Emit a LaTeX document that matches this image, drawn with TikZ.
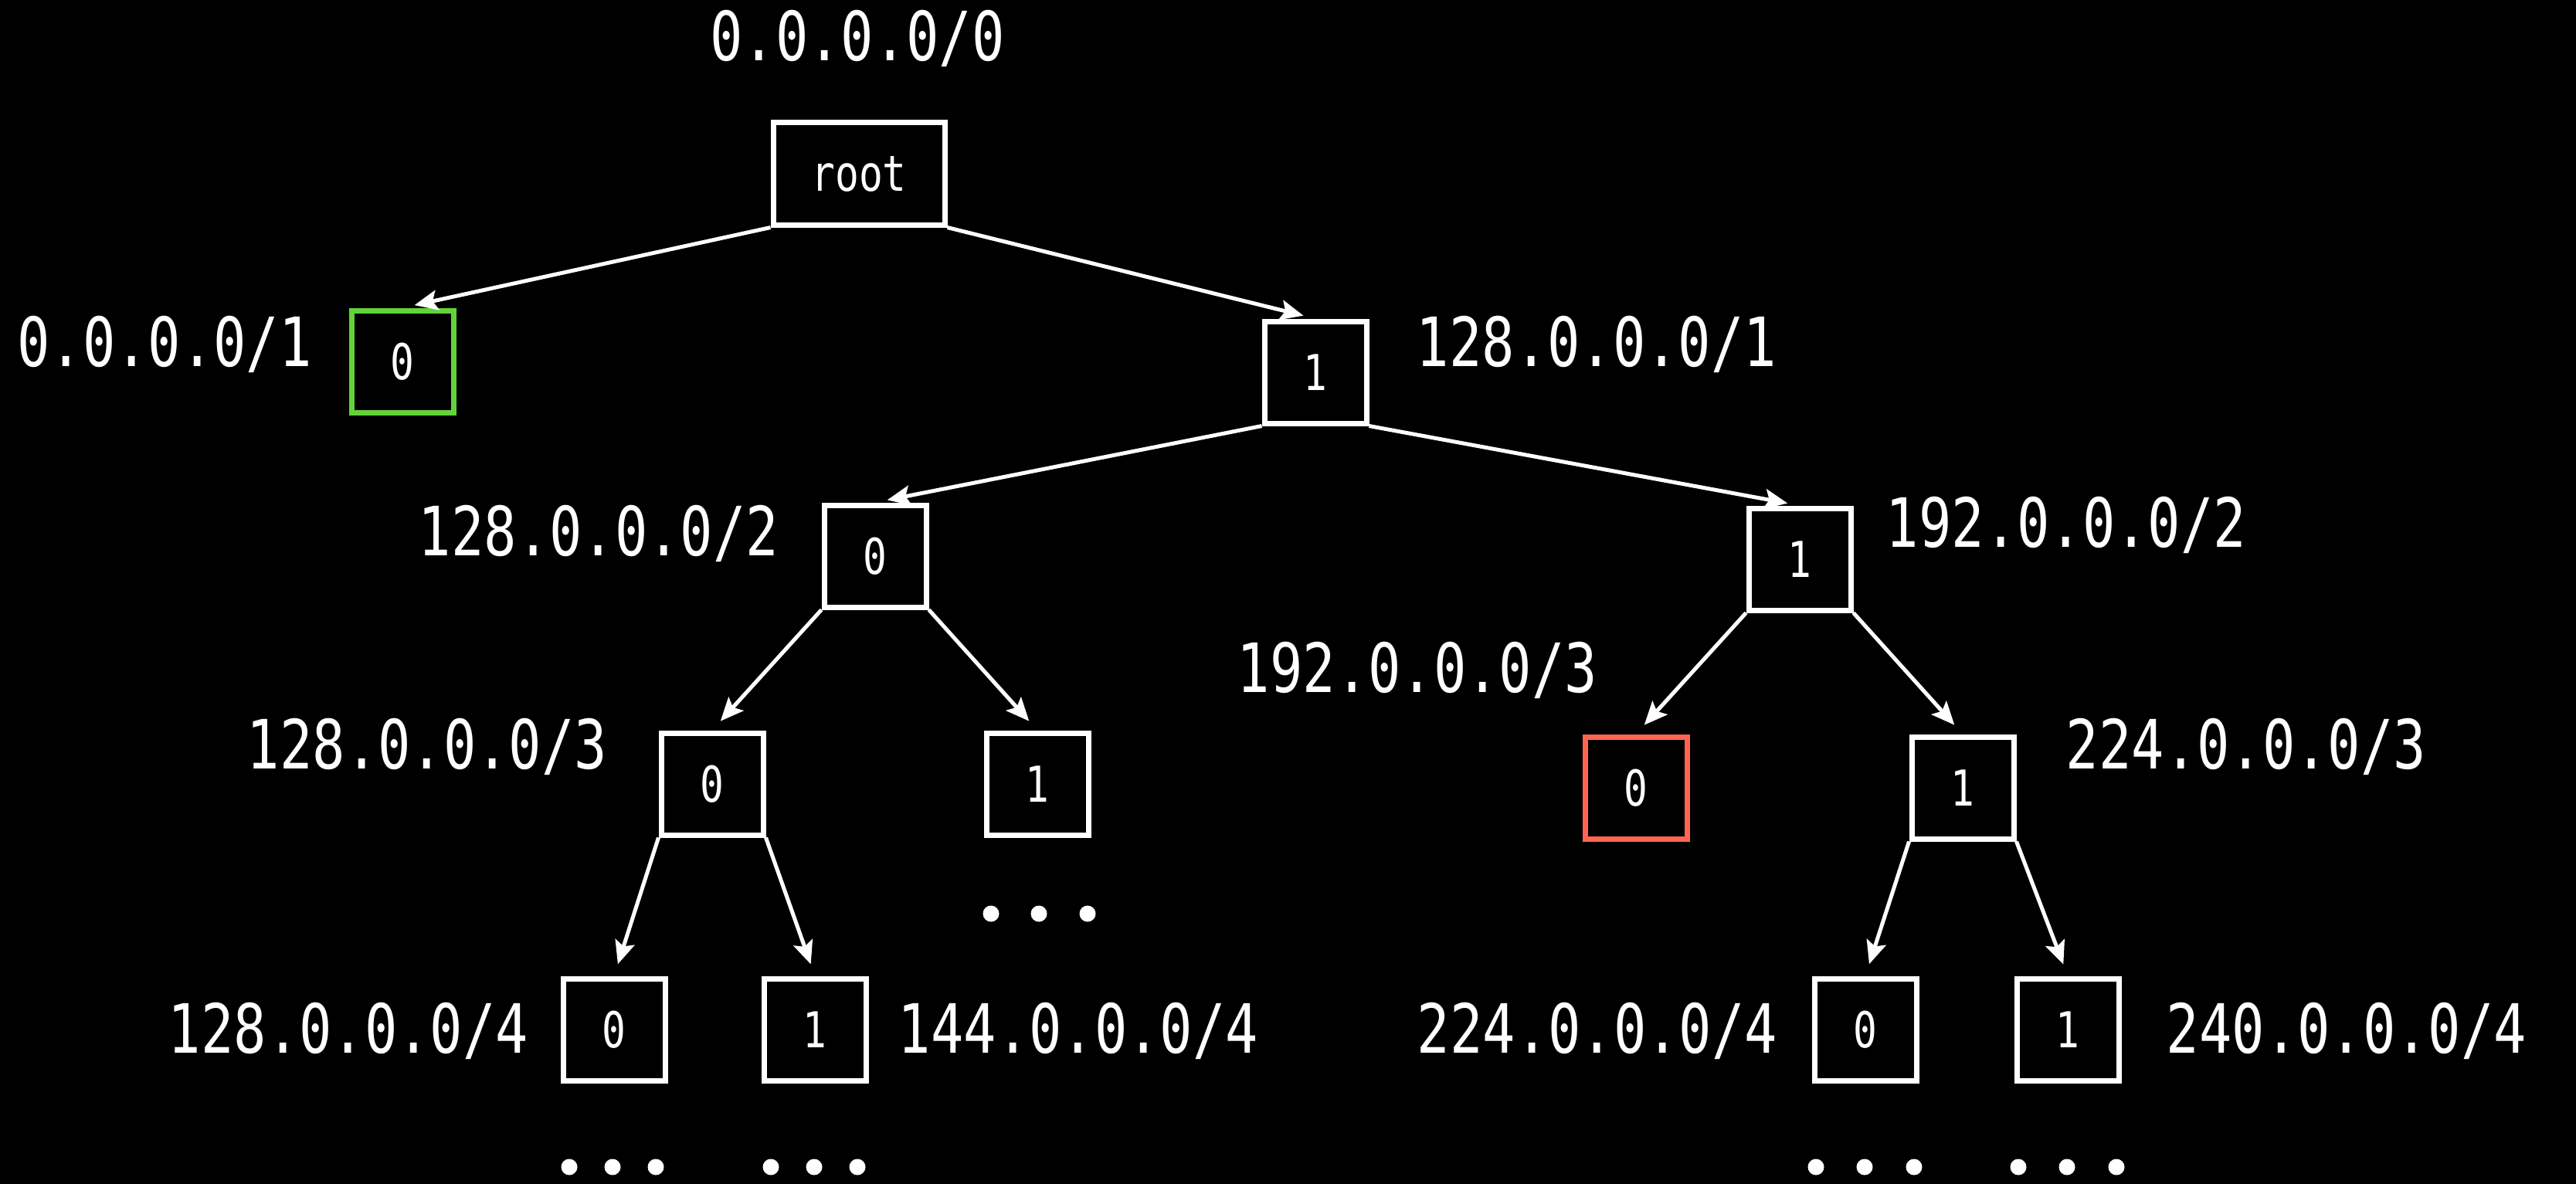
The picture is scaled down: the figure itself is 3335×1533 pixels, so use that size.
\documentclass[tikz,border=0pt]{standalone}
\usepackage{fontspec}
\usetikzlibrary{arrows.meta}
\newfontfamily\triefont[FakeStretch=0.8]{DejaVu Sans Mono}
\definecolor{hitgreen}{RGB}{98,211,58}
\definecolor{missred}{RGB}{255,102,80}
\begin{document}
\begin{tikzpicture}[x=1pt,y=-1pt,
  bitbox/.style={draw=white,line width=7pt,minimum width=132pt,minimum height=132pt,
    inner sep=0pt,text=white,font=\triefont\fontsize{64}{64}\selectfont},
  cidrlabel/.style={text=white,inner sep=0pt,text height=64pt,text depth=0pt,
    font=\triefont\fontsize{88}{88}\selectfont},
  edge/.style={draw=white,line width=5pt,shorten >=16pt,
    -{Stealth[length=30pt,width=26pt,inset=6pt]}},
  dot/.style={circle,fill=white,inner sep=0pt,minimum size=21pt}]

% canvas
\fill[black] (0,0) rectangle (3335,1533);
\useasboundingbox (0,0) rectangle (3335,1533);

% trie nodes
\node[bitbox,minimum width=222pt] (root) at (1112,225) {root};
\node[bitbox,draw=hitgreen] (n0)   at (521,468)  {0};
\node[bitbox] (n1)   at (1703,482) {1};
\node[bitbox] (n10)  at (1133,720) {0};
\node[bitbox] (n11)  at (2330,724) {1};
\node[bitbox] (n100) at (922,1015) {0};
\node[bitbox] (n101) at (1343,1015) {1};
\node[bitbox,draw=missred] (n110) at (2118,1020) {0};
\node[bitbox] (n111) at (2541,1020) {1};
\node[bitbox] (n1000) at (795,1333)  {0};
\node[bitbox] (n1001) at (1055,1333) {1};
\node[bitbox] (n1110) at (2415,1333) {0};
\node[bitbox] (n1111) at (2677,1333) {1};

% prefix labels
\node[cidrlabel] (p)     at (1110,47)  {0.0.0.0/0};
\node[cidrlabel] (p0)    at (213,442)  {0.0.0.0/1};
\node[cidrlabel] (p1)    at (2067,442) {128.0.0.0/1};
\node[cidrlabel] (p10)   at (775,687)  {128.0.0.0/2};
\node[cidrlabel] (p11)   at (2675,676) {192.0.0.0/2};
\node[cidrlabel] (p100)  at (553,963)  {128.0.0.0/3};
\node[cidrlabel] (p110)  at (1835,864) {192.0.0.0/3};
\node[cidrlabel] (p111)  at (2908,963) {224.0.0.0/3};
\node[cidrlabel] (p1000) at (451,1331)  {128.0.0.0/4};
\node[cidrlabel] (p1001) at (1396,1331) {144.0.0.0/4};
\node[cidrlabel] (p1110) at (2068,1331) {224.0.0.0/4};
\node[cidrlabel] (p1111) at (3038,1331) {240.0.0.0/4};

% edges
\draw[edge] (root.south west) -- (n0.north);
\draw[edge] (root.south east) -- (n1.north);
\draw[edge] (n1.south west) -- (n10.north);
\draw[edge] (n1.south east) -- (n11.north);
\draw[edge] (n10.south west) -- (n100.north);
\draw[edge] (n10.south east) -- (n101.north);
\draw[edge] (n11.south west) -- (n110.north);
\draw[edge] (n11.south east) -- (n111.north);
\draw[edge] (n100.south west) -- (n1000.north);
\draw[edge] (n100.south east) -- (n1001.north);
\draw[edge] (n111.south west) -- (n1110.north);
\draw[edge] (n111.south east) -- (n1111.north);

% continuation dots
\foreach \x [count=\i] in {1283,1345,1408} \node[dot] (c101-\i) at (\x,1183) {};
\foreach \x [count=\i] in {737,793,849} \node[dot] (c1000-\i) at (\x,1511) {};
\foreach \x [count=\i] in {998,1054,1110} \node[dot] (c1001-\i) at (\x,1511) {};
\foreach \x [count=\i] in {2351,2414,2478} \node[dot] (c1110-\i) at (\x,1511) {};
\foreach \x [count=\i] in {2613,2676,2740} \node[dot] (c1111-\i) at (\x,1511) {};
\end{tikzpicture}
\end{document}
